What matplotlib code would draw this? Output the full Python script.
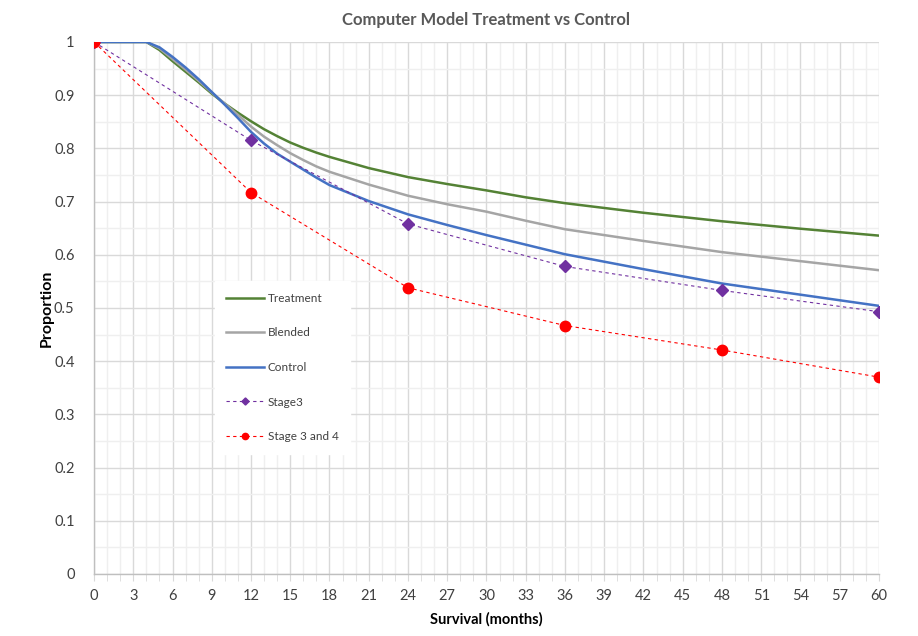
import numpy as np
import matplotlib
matplotlib.use("Agg")
import matplotlib.pyplot as plt
from matplotlib.ticker import MultipleLocator

plt.rcParams['font.family'] = ['Lato', 'DejaVu Sans']

# 曲線のデータ (月, 割合)
months = [0, 4, 5, 6, 7, 8, 9, 10, 11, 12, 13, 14, 15, 16, 17, 18, 21, 24, 27, 30, 33, 36, 42, 48, 54, 60]
treatment = [1.0, 1.0, 0.985, 0.964, 0.944, 0.924, 0.903, 0.884, 0.867, 0.851, 0.836, 0.823, 0.811,
             0.801, 0.792, 0.784, 0.763, 0.746, 0.733, 0.721, 0.708, 0.697, 0.679, 0.663, 0.649, 0.636]
blended = [1.0, 1.0, 0.988, 0.968, 0.948, 0.927, 0.905, 0.884, 0.863, 0.841, 0.822, 0.806, 0.791,
           0.778, 0.766, 0.756, 0.732, 0.711, 0.695, 0.681, 0.664, 0.648, 0.626, 0.605, 0.588, 0.571]
control = [1.0, 1.0, 0.99, 0.972, 0.952, 0.930, 0.906, 0.882, 0.857, 0.831, 0.809, 0.790, 0.775,
           0.760, 0.745, 0.731, 0.701, 0.676, 0.656, 0.637, 0.619, 0.601, 0.573, 0.546, 0.525, 0.504]

# ステージ別の実測点
stage_months = [0, 12, 24, 36, 48, 60]
stage3 = [1.0, 0.815, 0.658, 0.578, 0.533, 0.493]
stage34 = [1.0, 0.717, 0.538, 0.467, 0.421, 0.370]

fig = plt.figure(figsize=(9.18, 6.36), dpi=100)
ax = fig.add_axes([0.1024, 0.0975, 0.8551, 0.8365])

ax.plot(months, treatment, color='#548235', lw=1.8, label='Treatment', zorder=3)
ax.plot(months, blended, color='#a5a5a5', lw=1.8, label='Blended', zorder=3)
ax.plot(months, control, color='#4472c4', lw=1.8, label='Control', zorder=3)
ax.plot(stage_months, stage3, color='#7030a0', lw=0.8, ls=(0, (3, 3)), marker='D',
        ms=6, mfc='#7030a0', mec='#7030a0', label='Stage3', zorder=4)
ax.plot(stage_months, stage34, color='#ff0000', lw=0.8, ls=(0, (3, 3)), marker='o',
        ms=7.5, mfc='#ff0000', mec='#ff0000', label='Stage 3 and 4', zorder=4)

ax.set_xlim(0, 60)
ax.set_ylim(0, 1)
ax.xaxis.set_major_locator(MultipleLocator(3))
ax.xaxis.set_minor_locator(MultipleLocator(1))
ax.yaxis.set_major_locator(MultipleLocator(0.1))
ax.yaxis.set_minor_locator(MultipleLocator(0.05))
ax.set_yticks(np.arange(0, 1.01, 0.1))
ax.set_yticklabels(['0', '0.1', '0.2', '0.3', '0.4', '0.5', '0.6', '0.7', '0.8', '0.9', '1'])

ax.grid(which='major', color='#d9d9d9', lw=1.0, zorder=0)
ax.grid(which='minor', color='#efefef', lw=1.0, zorder=0)
ax.set_axisbelow(True)

for s in ['top', 'right']:
    ax.spines[s].set_visible(False)
for s in ['left', 'bottom']:
    ax.spines[s].set_color('#bfbfbf')
    ax.spines[s].set_linewidth(1.0)

ax.tick_params(axis='x', which='both', direction='out', length=5, color='#d9d9d9',
               labelsize=10.5, labelcolor='#404040', pad=6)
ax.tick_params(axis='y', which='both', length=0, labelsize=10.5, labelcolor='#404040', pad=14)

ax.set_title('Computer Model Treatment vs Control', fontsize=12, fontweight='bold',
             color='#595959', pad=12)
ax.set_xlabel('Survival (months)', fontsize=10.5, fontweight='bold', labelpad=6)
ax.set_ylabel('Proportion', fontsize=11.5, fontweight='bold', labelpad=0)

leg = ax.legend(loc='upper left', bbox_to_anchor=(0.146, 0.562), frameon=True, fontsize=8.5,
                labelspacing=2.0, handlelength=3.2, handletextpad=0.3, borderpad=1.0,
                fancybox=False, labelcolor='#404040', markerscale=0.6)
leg.get_frame().set_edgecolor('white')
leg.get_frame().set_facecolor('white')
leg.get_frame().set_alpha(1.0)

plt.savefig('out.png', dpi=100)
